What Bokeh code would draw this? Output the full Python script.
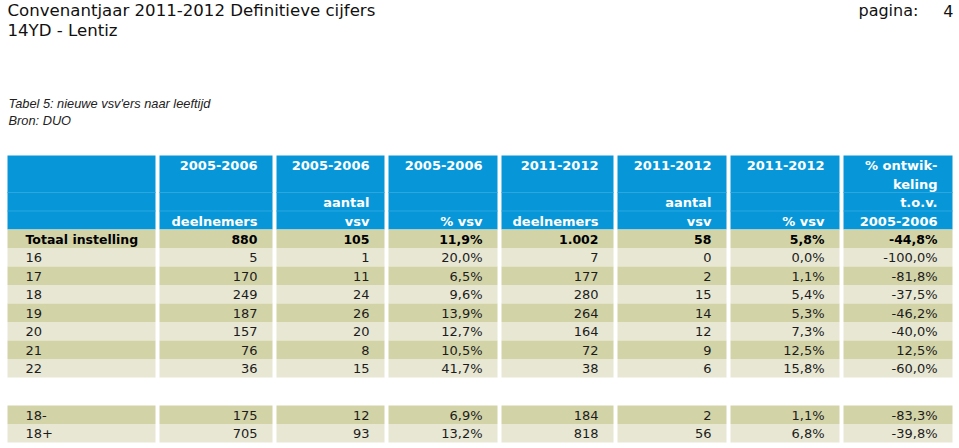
from bokeh.plotting import figure
from bokeh.models import ColumnDataSource, Range1d
from bokeh.core.properties import value
from bokeh.embed import file_html
from bokeh.resources import INLINE

# ---- data ----
title_line1 = "Convenantjaar 2011-2012 Definitieve cijfers"
title_line2 = "14YD - Lentiz"
page_label = "pagina:"
page_number = "4"
caption1 = "Tabel 5: nieuwe vsv'ers naar leeftijd"
caption2 = "Bron: DUO"

header_rows = [
    ["", "2005-2006", "2005-2006", "2005-2006", "2011-2012", "2011-2012", "2011-2012", "% ontwik-"],
    ["", "", "", "", "", "", "", "keling"],
    ["", "", "aantal", "", "", "aantal", "", "t.o.v."],
    ["", "deelnemers", "vsv", "% vsv", "deelnemers", "vsv", "% vsv", "2005-2006"],
]

labels = ["Totaal instelling", "16", "17", "18", "19", "20", "21", "22", "18-", "18+"]
deel_0506 = [880, 5, 170, 249, 187, 157, 76, 36, 175, 705]
vsv_0506 = [105, 1, 11, 24, 26, 20, 8, 15, 12, 93]
pct_0506 = [11.9, 20.0, 6.5, 9.6, 13.9, 12.7, 10.5, 41.7, 6.9, 13.2]
deel_1112 = [1002, 7, 177, 280, 264, 164, 72, 38, 184, 818]
vsv_1112 = [58, 0, 2, 15, 14, 12, 9, 6, 2, 56]
pct_1112 = [5.8, 0.0, 1.1, 5.4, 5.3, 7.3, 12.5, 15.8, 1.1, 6.8]
ontwikkeling = [-44.8, -100.0, -81.8, -37.5, -46.2, -40.0, 12.5, -60.0, -83.3, -39.8]


def fmt_int(v):
    return f"{v:,}".replace(",", ".")


def fmt_pct(v):
    return f"{v:.1f}".replace(".", ",") + "%"


columns = [
    labels,
    [fmt_int(v) for v in deel_0506],
    [fmt_int(v) for v in vsv_0506],
    [fmt_pct(v) for v in pct_0506],
    [fmt_int(v) for v in deel_1112],
    [fmt_int(v) for v in vsv_1112],
    [fmt_pct(v) for v in pct_1112],
    [fmt_pct(v) for v in ontwikkeling],
]

# ---- layout ----
W, H = 959, 448
OX, OY = 0, 0
BLUE = "#0797d9"
DARK = "#d3d3a8"
LIGHT = "#e7e7d3"
TXT = "#1c1c1c"
FONT = "DejaVu Sans"

col_widths = [148, 113, 108, 109, 112, 109, 109, 109]
col_gap = 4
table_left = 7
lefts, rights = [], []
x = table_left
for w in col_widths:
    lefts.append(x)
    rights.append(x + w)
    x += w + col_gap

header_top = 155
row_h = 18.5
body_top = header_top + 4 * row_h
group2_top = 405
row_tops = [body_top + i * row_h for i in range(8)] + [group2_top + j * row_h for j in range(2)]
row_fill = [DARK, LIGHT, DARK, LIGHT, DARK, LIGHT, DARK, LIGHT, DARK, LIGHT]

p = figure(width=W, height=H, output_backend="svg", toolbar_location=None,
           x_range=Range1d(OX, OX + W), y_range=Range1d(OY + H, OY),
           min_border=0, outline_line_color=None, background_fill_color="white")
p.axis.visible = False
p.grid.visible = False

# cell backgrounds
ql, qr, qt, qb, qc = [], [], [], [], []
for c in range(len(col_widths)):
    ql.append(lefts[c]); qr.append(rights[c]); qt.append(header_top); qb.append(body_top); qc.append(BLUE)
    for r, top in enumerate(row_tops):
        ql.append(lefts[c]); qr.append(rights[c]); qt.append(top); qb.append(top + row_h); qc.append(row_fill[r])
p.quad(left="l", right="r", top="t", bottom="b", fill_color="c", line_color=None,
       source=ColumnDataSource(dict(l=ql, r=qr, t=qt, b=qb, c=qc)))

# faint lines inside header
sx0, sx1, sy = [], [], []
for c in range(len(col_widths)):
    for k in (2, 3):
        sx0.append(lefts[c]); sx1.append(rights[c]); sy.append(header_top + k * row_h)
p.segment(x0="x0", x1="x1", y0="y", y1="y", line_color="#2aa6e0", line_width=1,
          source=ColumnDataSource(dict(x0=sx0, x1=sx1, y=sy)))

pad_r = 15
pad_l = 18

# header texts
hx, hy, ht = [], [], []
for k, row in enumerate(header_rows):
    for c, t in enumerate(row):
        if t:
            hx.append(rights[c] - pad_r); hy.append(header_top + (k + 0.5) * row_h + 1); ht.append(t)
p.text(x="x", y="y", text="t", source=ColumnDataSource(dict(x=hx, y=hy, t=ht)),
       text_align="right", text_baseline="middle", text_color="white",
       text_font=value(FONT), text_font_size="13px", text_font_style="bold")

# body texts
for bold in (True, False):
    bx, by, bt, ba = [], [], [], []
    for r, top in enumerate(row_tops):
        if (r == 0) != bold:
            continue
        for c in range(len(columns)):
            t = columns[c][r]
            if c == 0:
                bx.append(lefts[c] + pad_l); ba.append("left")
            else:
                bx.append(rights[c] - pad_r); ba.append("right")
            by.append(top + row_h / 2 + 0.5); bt.append(t)
    p.text(x="x", y="y", text="t", text_align="a",
           source=ColumnDataSource(dict(x=bx, y=by, t=bt, a=ba)),
           text_baseline="middle", text_color="#000000" if bold else TXT,
           text_font=value(FONT), text_font_size="12.5px" if bold else "13px",
           text_font_style="bold" if bold else "normal")

# titles
p.text(x=[7, 7], y=[10, 30], text=[title_line1, title_line2], text_align="left",
       text_baseline="middle", text_color="#111111", text_font=value(FONT), text_font_size="16.6px")
p.text(x=[858], y=[10], text=[page_label], text_align="left", text_baseline="middle",
       text_color="#111111", text_font=value(FONT), text_font_size="16px")
p.text(x=[953], y=[10], text=[page_number], text_align="right", text_baseline="middle",
       text_color="#111111", text_font=value(FONT), text_font_size="16px")
p.text(x=[8, 8], y=[103, 120], text=[caption1, caption2], text_align="left",
       text_baseline="middle", text_color="#222222", text_font=value("Liberation Sans"),
       text_font_size="12.8px", text_font_style="italic")

open("out.html", "w").write(file_html(p, INLINE))
